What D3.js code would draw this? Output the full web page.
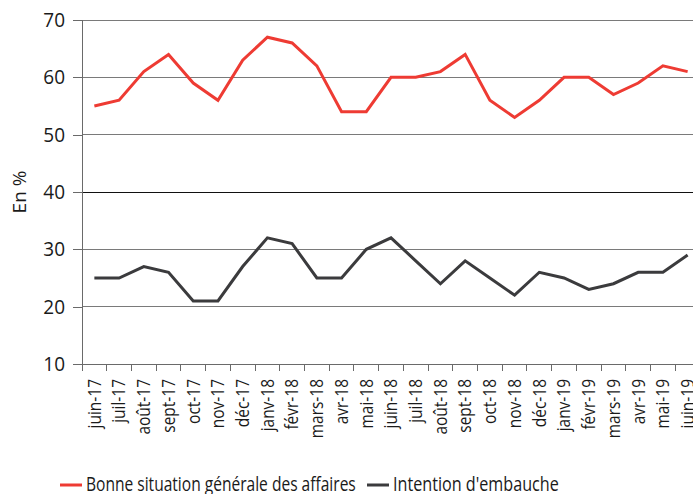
<!DOCTYPE html>
<meta charset="utf-8">
<script src="https://d3js.org/d3.v7.min.js"></script>
<style>
body { margin: 0; background: #fff; }
text { font-family: "Open Sans", sans-serif; fill: #1a1a1a; }
</style>
<body>
<script>

var months = ['juin-17','juil-17','août-17','sept-17','oct-17','nov-17','déc-17',
              'janv-18','févr-18','mars-18','avr-18','mai-18','juin-18','juil-18',
              'août-18','sept-18','oct-18','nov-18','déc-18','janv-19','févr-19',
              'mars-19','avr-19','mai-19','juin-19']
var affaires = [55,56,61,64,59,56,63,67,66,62,54,54,60,60,61,64,56,53,56,60,60,57,59,62,61]
var embauche = [25,25,27,26,21,21,27,32,31,25,25,30,32,28,24,28,25,22,26,25,23,24,26,26,29]
var yTicks = [10,20,30,40,50,60,70]
var seriesNames = ['Bonne situation générale des affaires', "Intention d'embauche"]
var colors = ['#ee3b33', '#3b3b3d']

var width = 693
var height = 494

var svg = d3.select("body").append("svg")
            .attr("width", width)
            .attr("height", height)

var x = d3.scaleBand().domain(months).range([82, 700])
var y = d3.scaleLinear().domain([10, 70]).range([364, 20])

// horizontal grid
svg.append("g").selectAll("line")
    .data(yTicks.slice(1))
    .enter().append("line")
      .attr("x1", 82).attr("x2", width)
      .attr("y1", d => y(d)).attr("y2", d => y(d))
      .attr("stroke", d => d == 40 ? "#111" : "#7a7a7a")
      .attr("stroke-width", 1)
      .attr("shape-rendering", "crispEdges")

var yAxis = svg.append("g")
    .attr("transform", "translate(82,0)")
    .call(d3.axisLeft(y).tickValues(yTicks).tickSize(9).tickPadding(8))
yAxis.selectAll("path, line").attr("stroke", "#6a6a6a").attr("shape-rendering", "crispEdges")
yAxis.selectAll("text").style("font-size", "20px").attr("fill", "#1a1a1a")
    .attr("transform", "scale(0.95,1)")
    .attr("x", -17 / 0.95)

var xAxis = svg.append("g")
    .attr("transform", "translate(0," + y(10) + ")")
    .call(d3.axisBottom(x).tickSize(0).tickPadding(0))
xAxis.select("path").attr("stroke", "#6a6a6a").attr("shape-rendering", "crispEdges")
xAxis.selectAll("text")
    .style("font-size", "18px")
    .attr("fill", "#1a1a1a")
    .attr("text-anchor", "end")
    .attr("dy", "0.35em")
    .attr("transform", "translate(0,15) rotate(-90) scale(0.86,1)")

// ticks on band boundaries
xAxis.append("g").selectAll("line")
    .data(months)
    .enter().append("line")
      .attr("x1", d => x(d)).attr("x2", d => x(d))
      .attr("y1", 0).attr("y2", 7)
      .attr("stroke", "#6a6a6a")
      .attr("shape-rendering", "crispEdges")

svg.append("text")
    .attr("transform", "translate(26," + y(40) + ") rotate(-90)")
    .attr("text-anchor", "middle")
    .style("font-size", "19px")
    .text("En %")

var line = d3.line()
    .x((d, i) => x(months[i]) + x.bandwidth() / 2)
    .y(d => y(d))

;[affaires, embauche].forEach(function(s, k) {
  svg.append("path")
      .datum(s)
      .attr("fill", "none")
      .attr("stroke", colors[k])
      .attr("stroke-width", 3)
      .attr("d", line)
})

// legend (text squeezed to the narrow width of the original font)
var legendX = [60, 367]
var legendLen = [270, 166]
seriesNames.forEach(function(n, k) {
  var g = svg.append("g").attr("transform", "translate(" + legendX[k] + ",485)")
  g.append("line").attr("x1", 0).attr("x2", 22).attr("y1", 0).attr("y2", 0)
      .attr("stroke", colors[k]).attr("stroke-width", 3)
  var t = g.append("text").attr("y", 6)
      .style("font-size", "20px").text(n)
  var sx = legendLen[k] / t.node().getComputedTextLength()
  t.attr("transform", "translate(26,0) scale(" + sx + ",1)")
})

</script>
</body>
